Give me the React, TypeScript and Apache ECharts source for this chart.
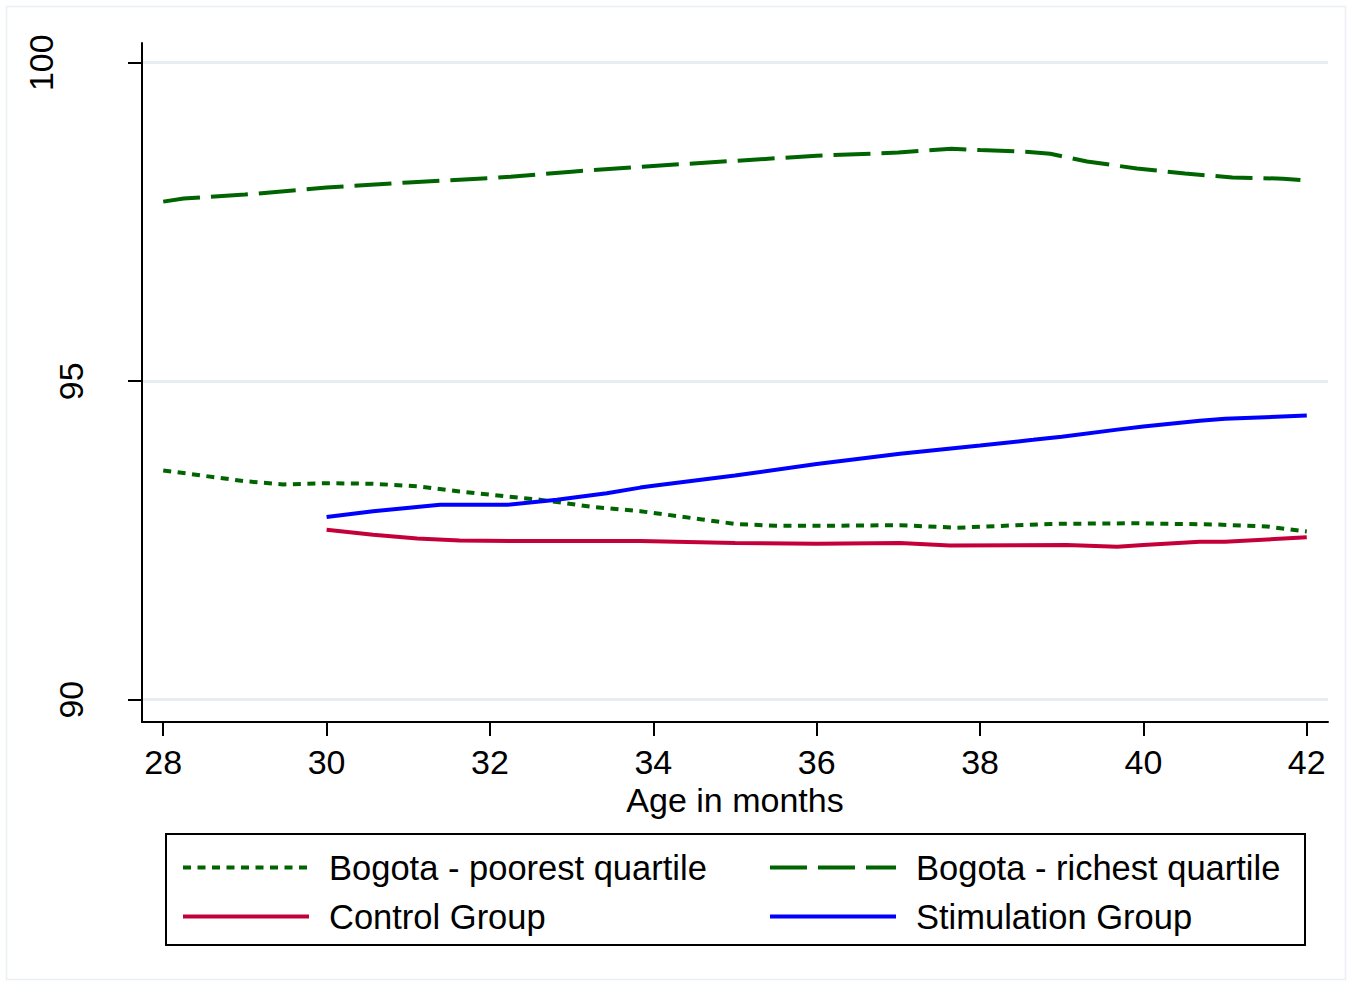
import React, { useEffect, useRef } from "react";
import * as echarts from "echarts";

const xTicks = [28, 30, 32, 34, 36, 38, 40, 42];
const yTicks = [90, 95, 100];
const yLabelsLow = [90, 95];
const yLabelsTop = [100];

const poorestMonths = [28, 29, 29.47, 30, 30.57, 31.11, 31.63, 32.21, 32.61, 33.23, 33.84, 34.6, 35, 35.5, 36, 37.02, 37.72, 38.86, 39.87, 40.9, 41.51, 42];
const poorestValues = [93.6, 93.43, 93.38, 93.4, 93.39, 93.35, 93.27, 93.19, 93.14, 93.03, 92.96, 92.83, 92.76, 92.73, 92.73, 92.74, 92.7, 92.76, 92.77, 92.75, 92.72, 92.64];

const richestMonths = [28, 28.25, 29, 30, 31, 32, 32.25, 33, 34, 35, 36, 37, 37.65, 38, 38.6, 38.86, 39.31, 39.92, 40.51, 41.09, 41.71, 42];
const richestValues = [97.82, 97.87, 97.93, 98.04, 98.12, 98.19, 98.21, 98.29, 98.38, 98.46, 98.54, 98.59, 98.65, 98.63, 98.6, 98.57, 98.45, 98.34, 98.26, 98.2, 98.18, 98.15];

const controlMonths = [30, 30.57, 31.11, 31.63, 32.5, 33.84, 35, 36, 37.02, 37.63, 39.06, 39.68, 40, 40.69, 41, 42];
const controlValues = [92.67, 92.59, 92.53, 92.5, 92.49, 92.49, 92.46, 92.45, 92.46, 92.42, 92.43, 92.4, 92.43, 92.48, 92.48, 92.55];

const stimMonths = [30, 30.57, 31.39, 32.21, 32.82, 33.43, 33.84, 34, 35, 36, 37.02, 38, 38.65, 39, 39.68, 40, 40.69, 41, 42];
const stimValues = [92.87, 92.96, 93.06, 93.06, 93.14, 93.24, 93.33, 93.36, 93.52, 93.7, 93.86, 93.99, 94.08, 94.13, 94.24, 94.29, 94.38, 94.41, 94.46];

const zip = (xs: number[], ys: number[]) => xs.map((x, i) => [x, ys[i]]);

const FONT = "'Liberation Sans', Arial, Helvetica, sans-serif";
const GREEN = "#006400";
const RED = "#c4003a";
const BLUE = "#0000ff";

export default function App() {
  const ref = useRef<HTMLDivElement>(null);
  useEffect(() => {
    if (!ref.current) return;
    const chart = echarts.init(ref.current, undefined, { renderer: "svg" });
    const textStyle = { fontFamily: FONT, fontSize: 34, color: "#000", lineHeight: 34 };
    const tightText = { ...textStyle, lineHeight: 26 };
    const yMin = 89.65;
    const yMax = 100.31;
    const legendCommon = {
      orient: "vertical",
      top: 850,
      padding: 0,
      itemWidth: 126,
      itemHeight: 20,
      itemGap: 14,
      textStyle: { ...textStyle, fontSize: 34.5, padding: [0, 0, 0, 15] },
      lineStyle: { width: 4 },
      itemStyle: { opacity: 0 },
      selectedMode: false,
    };
    const option: any = {
      animation: false,
      backgroundColor: "#fff",
      textStyle: { fontFamily: FONT },
      grid: {
        left: 142,
        right: 23,
        top: 43,
        bottom: 264,
        containLabel: false,
        outerBoundsMode: "none",
      },
      xAxis: {
        type: "value",
        min: 27.74,
        max: 42.26,
        name: "Age in months",
        nameLocation: "middle",
        nameGap: 65,
        nameMoveOverlap: false,
        nameTextStyle: { ...tightText, verticalAlign: "top" },
        axisLine: { show: true, onZero: false, lineStyle: { color: "#000", width: 2 } },
        axisTick: { show: true, length: 14, customValues: xTicks, lineStyle: { color: "#000", width: 2 } },
        axisLabel: { ...tightText, margin: 27, customValues: xTicks, formatter: (v: number) => String(v) },
        splitLine: { show: false },
      },
      yAxis: [
        {
          type: "value",
          min: yMin,
          max: yMax,
          position: "left",
          axisLine: { show: true, onZero: false, lineStyle: { color: "#000", width: 2 } },
          axisTick: { show: true, length: 14, customValues: yTicks, lineStyle: { color: "#000", width: 2 } },
          axisLabel: {
            ...textStyle,
            rotate: 90,
            margin: 54,
            customValues: yLabelsLow,
            align: "center",
            verticalAlign: "bottom",
            formatter: (v: number) => String(v),
          },
          splitLine: { show: true, lineStyle: { color: "#e7eef1", width: 3 } },
        },
        {
          type: "value",
          min: yMin,
          max: yMax,
          position: "left",
          axisLine: { show: false },
          axisTick: { show: false },
          axisLabel: {
            ...textStyle,
            rotate: 90,
            margin: 84,
            customValues: yLabelsTop,
            align: "center",
            verticalAlign: "bottom",
            formatter: (v: number) => String(v),
          },
          splitLine: { show: false },
        },
      ],
      legend: [
        {
          ...legendCommon,
          left: 181,
          data: ["Bogota - poorest quartile", "Control Group"],
        },
        {
          ...legendCommon,
          left: 768,
          data: ["Bogota - richest quartile", "Stimulation Group"],
        },
      ],
      graphic: [
        {
          type: "rect",
          shape: { x: 6.5, y: 6.5, width: 1339, height: 973 },
          style: { fill: "none", stroke: "#e9eff2", lineWidth: 1.5 },
          silent: true,
        },
        {
          type: "rect",
          shape: { x: 166, y: 834, width: 1139, height: 111 },
          style: { fill: "none", stroke: "#000", lineWidth: 2 },
          silent: true,
        },
      ],
      series: [
        {
          name: "Bogota - poorest quartile",
          type: "line",
          symbol: "none",
          data: zip(poorestMonths, poorestValues),
          lineStyle: { color: GREEN, width: 4, type: [8, 6.5] },
          itemStyle: { color: GREEN },
        },
        {
          name: "Bogota - richest quartile",
          type: "line",
          symbol: "none",
          data: zip(richestMonths, richestValues),
          lineStyle: { color: GREEN, width: 4, type: [37, 11] },
          itemStyle: { color: GREEN },
        },
        {
          name: "Control Group",
          type: "line",
          symbol: "none",
          data: zip(controlMonths, controlValues),
          lineStyle: { color: RED, width: 4 },
          itemStyle: { color: RED },
        },
        {
          name: "Stimulation Group",
          type: "line",
          symbol: "none",
          data: zip(stimMonths, stimValues),
          lineStyle: { color: BLUE, width: 4 },
          itemStyle: { color: BLUE },
        },
      ],
    };
    chart.setOption(option);
    return () => chart.dispose();
  }, []);
  return (
    <div
      ref={ref}
      style={{ position: "fixed", left: 0, top: 0, width: 1351, height: 986, background: "#fff" }}
    />
  );
}
